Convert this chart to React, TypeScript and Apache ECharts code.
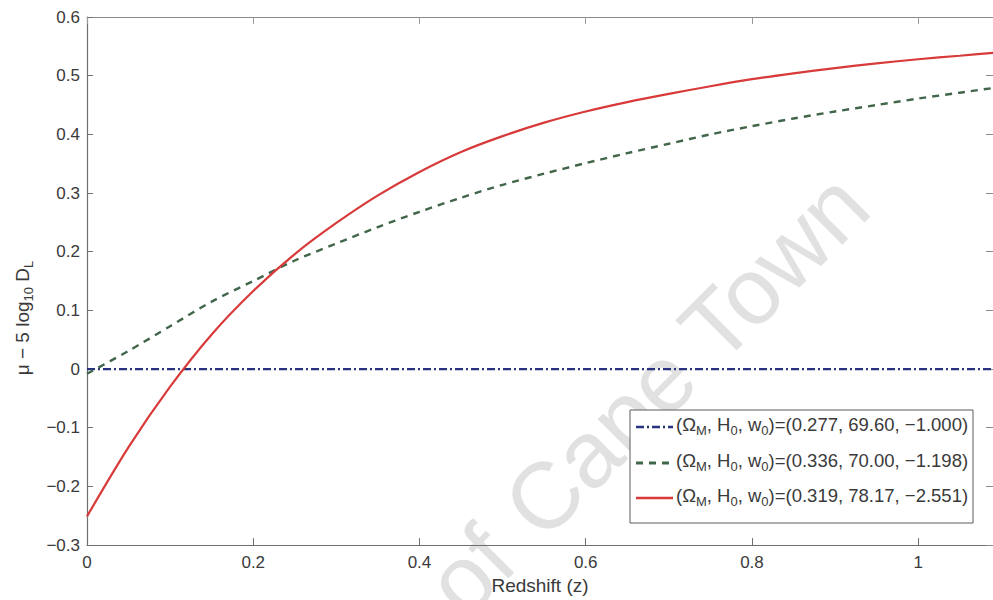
import React, { useEffect, useRef } from "react";
import * as echarts from "echarts";

// ---- data ----
const redshift = [
  0, 0.05, 0.1, 0.15, 0.2, 0.25, 0.3, 0.35, 0.4, 0.45, 0.5, 0.55, 0.6, 0.65,
  0.7, 0.75, 0.8, 0.85, 0.9, 0.95, 1.0, 1.05, 1.1,
];
const lcdmValues = [
  0, 0, 0, 0, 0, 0, 0, 0, 0, 0, 0, 0, 0, 0, 0, 0, 0, 0, 0, 0, 0, 0, 0,
];
const wcdmValues = [
  -0.008, 0.031, 0.073, 0.115, 0.15, 0.185, 0.214, 0.242, 0.268, 0.292, 0.314,
  0.333, 0.351, 0.368, 0.384, 0.4, 0.414, 0.427, 0.439, 0.45, 0.461, 0.471, 0.481,
];
const phantomValues = [
  -0.251, -0.133, -0.03, 0.059, 0.133, 0.196, 0.249, 0.296, 0.336, 0.37, 0.397,
  0.42, 0.439, 0.455, 0.469, 0.482, 0.494, 0.504, 0.513, 0.521, 0.528, 0.534, 0.54,
];
const legendOmegaM = ["0.277", "0.336", "0.319"];
const legendH0 = ["69.60", "70.00", "78.17"];
const legendW0 = ["\u22121.000", "\u22121.198", "\u22122.551"];
const xAxisTitle = "Redshift (z)";
const watermarkText = ["University of", "Cape Town"];

const FONT = "'Liberation Sans', Arial, Helvetica, sans-serif";
const AXIS_COLOR = "#6f6f6f";
const TEXT_COLOR = "#3a3a3a";
const seriesStyles = [
  { color: "#27337f", width: 2.2, dash: [8, 3, 2, 3] as number[] | null },
  { color: "#42664a", width: 2.4, dash: [7, 6] as number[] | null },
  { color: "#d83a3a", width: 2.2, dash: null as number[] | null },
];

function pairs(xs: number[], ys: number[]) {
  return xs.map((x, i) => [x, ys[i]]);
}

function legendRich(i: number) {
  return (
    "{n|(\u03A9}{s|M}{n|, H}{s|0}{n|, w}{s|0}{n|)=(" +
    legendOmegaM[i] +
    ", " +
    legendH0[i] +
    ", " +
    legendW0[i] +
    ")}"
  );
}

export default function App() {
  const ref = useRef<HTMLDivElement>(null);

  useEffect(() => {
    if (!ref.current) return;
    const chart = echarts.init(ref.current, null, { renderer: "svg" });

    const yFmt = (v: number) => {
      const r = Math.round(v * 10) / 10;
      if (Math.abs(r) < 1e-9) return "0";
      return r.toFixed(1).replace("-", "\u2212");
    };
    const xFmt = (v: number) => {
      const k = Math.round(v / 0.2);
      if (Math.abs(v - k * 0.2) > 1e-6) return "";
      const r = Math.round(v * 10) / 10;
      return String(r);
    };

    const seriesData = [lcdmValues, wcdmValues, phantomValues];

    const legendX = 630;
    const legendY = 410;
    const rowYs = [424, 460, 495];
    const legendElems: any[] = [
      {
        type: "rect",
        z: 100,
        shape: { x: legendX, y: legendY, width: 343, height: 113 },
        style: { fill: "#ffffff", stroke: "#5a5a5a", lineWidth: 1 },
      },
    ];
    rowYs.forEach((ry, i) => {
      const st = seriesStyles[i];
      legendElems.push({
        type: "line",
        z: 101,
        shape: { x1: 636, y1: ry + 3, x2: 673, y2: ry + 3 },
        style: {
          stroke: st.color,
          lineWidth: st.width + 0.4,
          lineDash: st.dash || undefined,
        },
      });
      legendElems.push({
        type: "text",
        z: 101,
        x: 676,
        y: ry,
        style: {
          text: legendRich(i),
          align: "left",
          verticalAlign: "middle",
          fill: TEXT_COLOR,
          rich: {
            n: { fontSize: 18.5, lineHeight: 26, fontFamily: FONT, fill: TEXT_COLOR },
            s: {
              fontSize: 13,
              lineHeight: 13,
              verticalAlign: "bottom",
              fontFamily: FONT,
              fill: TEXT_COLOR,
            },
          },
        },
      });
    });

    const option: any = {
      animation: false,
      backgroundColor: "#ffffff",
      grid: { left: 87, top: 17, width: 909, height: 538, containLabel: false },
      xAxis: [
        {
          type: "value",
          position: "bottom",
          min: 0,
          max: 1.09,
          interval: 0.2,
          name: xAxisTitle,
          nameLocation: "middle",
          nameGap: 25,
          nameTextStyle: { fontSize: 19, color: TEXT_COLOR, fontFamily: FONT },
          axisLine: { show: true, onZero: false, lineStyle: { color: AXIS_COLOR, width: 1.2 } },
          axisTick: { show: true, inside: true, length: 7, lineStyle: { color: AXIS_COLOR } },
          axisLabel: {
            show: true,
            margin: 9,
            fontSize: 17,
            color: TEXT_COLOR,
            fontFamily: FONT,
            formatter: xFmt,
            showMaxLabel: false,
          },
          splitLine: { show: false },
        },
        {
          type: "value",
          position: "top",
          min: 0,
          max: 1.09,
          interval: 0.2,
          axisLine: { show: true, onZero: false, lineStyle: { color: "#8a8a8a", width: 1.2 } },
          axisTick: { show: true, inside: true, length: 7, lineStyle: { color: "#9a9a9a" } },
          axisLabel: { show: false },
          splitLine: { show: false },
        },
      ],
      yAxis: [
        {
          type: "value",
          position: "left",
          min: -0.3,
          max: 0.6,
          interval: 0.1,
          axisLine: { show: true, onZero: false, lineStyle: { color: AXIS_COLOR, width: 1.2 } },
          axisTick: { show: true, inside: true, length: 6, lineStyle: { color: AXIS_COLOR } },
          axisLabel: {
            show: true,
            margin: 7,
            fontSize: 17,
            color: TEXT_COLOR,
            fontFamily: FONT,
            formatter: yFmt,
          },
          splitLine: { show: false },
        },
        {
          type: "value",
          position: "right",
          min: -0.3,
          max: 0.6,
          interval: 0.1,
          axisLine: { show: true, onZero: false, lineStyle: { color: AXIS_COLOR } },
          axisTick: { show: true, inside: true, length: 7, lineStyle: { color: "#8a8a8a" } },
          axisLabel: { show: false },
          splitLine: { show: false },
        },
      ],
      series: seriesData.map((vals, i) => ({
        type: "line",
        xAxisIndex: 0,
        yAxisIndex: 0,
        data: pairs(redshift, vals),
        symbol: "none",
        smooth: i === 0 ? false : 0.3,
        clip: true,
        z: 3 + i,
        lineStyle: {
          color: seriesStyles[i].color,
          width: seriesStyles[i].width,
          type: seriesStyles[i].dash || "solid",
        },
      })),
      graphic: [
        {
          type: "group",
          x: 686,
          y: 355,
          rotation: Math.PI / 4,
          silent: true,
          z: 0,
          children: [
            {
              type: "text",
              x: 0,
              y: 0,
              style: {
                text: watermarkText[1],
                align: "center",
                verticalAlign: "middle",
                fontSize: 94,
                fontFamily: FONT,
                fill: "#e1e1e1",
              },
            },
            {
              type: "text",
              x: -266,
              y: 0,
              style: {
                text: watermarkText[0],
                align: "right",
                verticalAlign: "middle",
                fontSize: 94,
                fontFamily: FONT,
                fill: "#e1e1e1",
              },
            },
          ],
        },
        {
          type: "text",
          x: 22,
          y: 318,
          rotation: Math.PI / 2,
          z: 50,
          style: {
            text: "{n|\u03BC \u2212 5 log}{s|10}{n| D}{s|L}",
            align: "center",
            verticalAlign: "middle",
            fill: TEXT_COLOR,
            rich: {
              n: { fontSize: 19, lineHeight: 26, fontFamily: FONT, fill: TEXT_COLOR },
              s: {
                fontSize: 13,
                lineHeight: 13,
                verticalAlign: "bottom",
                fontFamily: FONT,
                fill: TEXT_COLOR,
              },
            },
          },
        },
        ...legendElems,
      ],
    };

    chart.setOption(option);
    return () => {
      chart.dispose();
    };
  }, []);

  return (
    <div
      ref={ref}
      style={{
        position: "fixed",
        left: 0,
        top: 0,
        width: 993,
        height: 600,
        background: "#ffffff",
      }}
    />
  );
}
